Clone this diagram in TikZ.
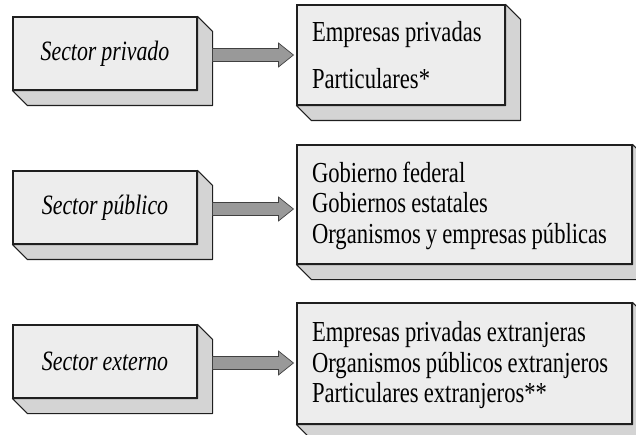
\documentclass[tikz,border=0pt]{standalone}
\usepackage{fontspec}
\setmainfont{Liberation Serif}[FakeStretch=0.78,WordSpace=0.9]
\usetikzlibrary{calc}
\definecolor{frente}{gray}{0.93}
\definecolor{lado}{gray}{0.83}
\definecolor{flechagris}{gray}{0.60}
\definecolor{borde}{gray}{0.12}

\begin{document}
\begin{tikzpicture}[%
    x=1pt, y=-1pt,
    caja/.style={draw=borde, line width=1.1pt, fill=frente, inner sep=0pt},
    sector/.style={caja, minimum width=184pt, minimum height=73pt,
                   font=\fontsize{28}{32}\selectfont\itshape},
    destino/.style={caja, align=flush left, inner xsep=15pt,
                    font=\fontsize{29}{30.5}\selectfont},
    fondo/.style={draw=borde, line width=1.1pt, fill=lado, line join=round},
    flecha/.style={draw=borde!85, line width=0.7pt, fill=flechagris}
]
\useasboundingbox (0,0) rectangle (636,435);

\node[sector] (privado) at (105,53.5)  {Sector privado};
\node[sector] (publico) at (105,207.5) {Sector público};
\node[sector] (externo) at (105,361.5) {Sector externo};

\node[destino, text width=178pt, minimum height=100pt] (privadas) at (401,55)
     {Empresas privadas\\[16pt]Particulares*};
\node[destino, text width=305pt, minimum height=119pt] (publicas) at (464.5,204.5)
     {\rule{0pt}{23pt}Gobierno federal\\Gobiernos estatales\\Organismos y empresas públicas};
\node[destino, text width=305pt, minimum height=121pt] (externas) at (464.5,363.5)
     {\rule{0pt}{24pt}Empresas privadas extranjeras\\Organismos públicos extranjeros\\Particulares extranjeros**};

\foreach \n in {privado,publico,externo,privadas,publicas,externas}
  \filldraw[fondo] (\n.north east) -- ++(15,15) -- ($(\n.south east)+(15,15)$)
     -- ($(\n.south west)+(15,15)$) -- (\n.south west) -- (\n.south east) -- cycle;

\foreach \a/\b in {privado/privadas,publico/publicas,externo/externas} {
  \path ($(\a.east)+(15,1.5)$) coordinate (ini)
        ($(\a.east -| \b.west)+(-3,1.5)$) coordinate (fin);
  \filldraw[flecha] ($(ini)+(0,-6.5)$) -- ($(fin)+(-15,-6.5)$) -- ($(fin)+(-15,-12)$)
     -- (fin) -- ($(fin)+(-15,12)$) -- ($(fin)+(-15,6.5)$) -- ($(ini)+(0,6.5)$) -- cycle;
}
\end{tikzpicture}
\end{document}
